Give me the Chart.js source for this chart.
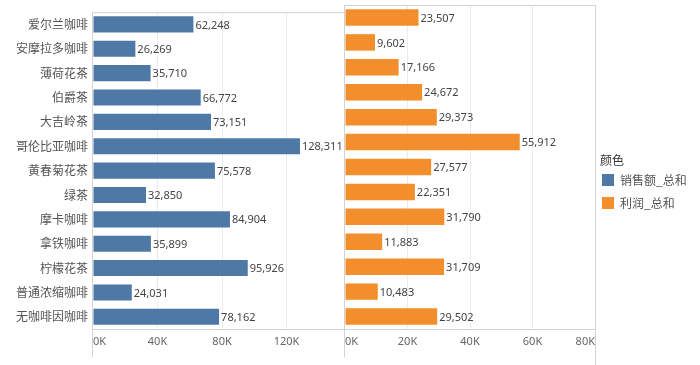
<!DOCTYPE html>
<html>
<head>
<meta charset="utf-8">
<script src="https://cdn.jsdelivr.net/npm/chart.js@4/dist/chart.umd.min.js"></script>
<style>
body{margin:0;background:#fff;width:700px;height:365px;overflow:hidden;position:relative;font-family:"Noto Sans CJK SC","Noto Sans",sans-serif;}
canvas{position:absolute;top:0}
#left{left:0}
#right{left:344px}
.lg-title{position:absolute;left:600px;top:152px;font-size:12px;line-height:16px;color:#333}
.lg-sw{position:absolute;left:602px;width:12px;height:12px}
.lg-txt{position:absolute;left:620px;font-size:12px;line-height:16px;color:#555}
</style>
</head>
<body>
<canvas id="left" width="345" height="365"></canvas>
<canvas id="right" width="356" height="365"></canvas>
<div id="legend"></div>
<script>
// 数据
const categorias = ['爱尔兰咖啡','安摩拉多咖啡','薄荷花茶','伯爵茶','大吉岭茶','哥伦比亚咖啡','黄春菊花茶','绿茶','摩卡咖啡','拿铁咖啡','柠檬花茶','普通浓缩咖啡','无咖啡因咖啡'];
const ventas = [62248,26269,35710,66772,73151,128311,75578,32850,84904,35899,95926,24031,78162];
const beneficio = [23507,9602,17166,24672,29373,55912,27577,22351,31790,11883,31709,10483,29502];
const series = ['销售额_总和','利润_总和'];
const colores = ['#4e79a7','#f28e2b'];
const ticksVentas = [0,40000,80000,120000];
const ticksBeneficio = [0,20000,40000,60000,80000];

const lineaColor = '#d2d2d2';

// lineas del marco y etiquetas de valores
const marco = {
    id: 'marco',
    afterDatasetsDraw(chart, args, opts){
        const ctx = chart.ctx;
        const a = chart.chartArea;
        ctx.save();
        // etiquetas
        ctx.font = '11px "Noto Sans", sans-serif';
        ctx.fillStyle = '#444';
        ctx.textBaseline = 'middle';
        ctx.textAlign = 'left';
        const meta = chart.getDatasetMeta(0);
        meta.data.forEach((bar, i) => {
            const v = chart.data.datasets[0].data[i];
            ctx.fillText(v.toLocaleString('en-US'), bar.x + 2, bar.y + 1);
        });
        // lineas
        ctx.strokeStyle = lineaColor;
        ctx.lineWidth = 1;
        ctx.beginPath();
        ctx.moveTo(a.left - 0.5, a.top + 0.5);
        ctx.lineTo(opts.derecha ? a.right + 0.5 : a.right + 1, a.top + 0.5);
        ctx.moveTo(a.left - 0.5, a.top);
        ctx.lineTo(a.left - 0.5, 357);
        if (opts.derecha) {
            ctx.moveTo(a.right + 0.5, a.top);
            ctx.lineTo(a.right + 0.5, 365);
        }
        ctx.stroke();
        ctx.restore();
    }
};

function crearGrafica(id, datos, color, max, ticks, padding, conEtiquetas){
    return new Chart(document.getElementById(id), {
        type: 'bar',
        data: {
            labels: categorias,
            datasets: [{ data: datos, backgroundColor: color, barPercentage: 0.66, categoryPercentage: 1 }]
        },
        options: {
            indexAxis: 'y',
            responsive: false,
            animation: false,
            layout: { padding: padding },
            plugins: { legend: { display: false }, tooltip: { enabled: false }, marco: { derecha: !conEtiquetas } },
            scales: {
                x: {
                    min: 0, max: max,
                    afterFit: s => { s.height = 36; },
                    afterBuildTicks: s => {
                        const t = ticks.map(v => ({ value: v }));
                        if (max !== ticks[ticks.length - 1]) t.push({ value: max });
                        s.ticks = t;
                    },
                    grid: {
                        drawTicks: true,
                        tickLength: 6,
                        tickColor: 'rgba(0,0,0,0)',
                        color: c => (c.tick && ticks.includes(c.tick.value) && c.tick.value !== 0) ? '#ebebeb' : 'rgba(0,0,0,0)'
                    },
                    border: { display: true, color: lineaColor },
                    ticks: {
                        autoSkip: false,
                        align: 'inner',
                        padding: 0,
                        color: '#666',
                        font: { size: 11, family: '"Noto Sans", sans-serif' },
                        callback: v => ticks.includes(v) ? (v / 1000) + 'K' : ''
                    }
                },
                y: conEtiquetas ? {
                    afterFit: s => { s.width = 93; },
                    grid: { display: false, drawTicks: false },
                    border: { display: false },
                    ticks: { padding: 5, color: '#555', font: { size: 12, family: '"Noto Sans CJK SC", sans-serif' } }
                } : { display: false }
            }
        },
        plugins: [marco]
    });
}

crearGrafica('left', ventas, colores[0], 155600, ticksVentas, { top: 5, right: 1, left: 0, bottom: 0 }, true);
crearGrafica('right', beneficio, colores[1], 80000, ticksBeneficio, { top: 5, right: 105, left: 1, bottom: 0 }, false);

// leyenda
const leyenda = document.getElementById('legend');
const titulo = document.createElement('div');
titulo.className = 'lg-title';
titulo.textContent = '颜色';
leyenda.appendChild(titulo);
series.forEach((s, i) => {
    const sw = document.createElement('div');
    sw.className = 'lg-sw';
    sw.style.top = (174 + i * 22.7) + 'px';
    sw.style.background = colores[i];
    leyenda.appendChild(sw);
    const tx = document.createElement('div');
    tx.className = 'lg-txt';
    tx.style.top = (172 + i * 22.7) + 'px';
    tx.textContent = s;
    leyenda.appendChild(tx);
});
</script>
</body>
</html>
